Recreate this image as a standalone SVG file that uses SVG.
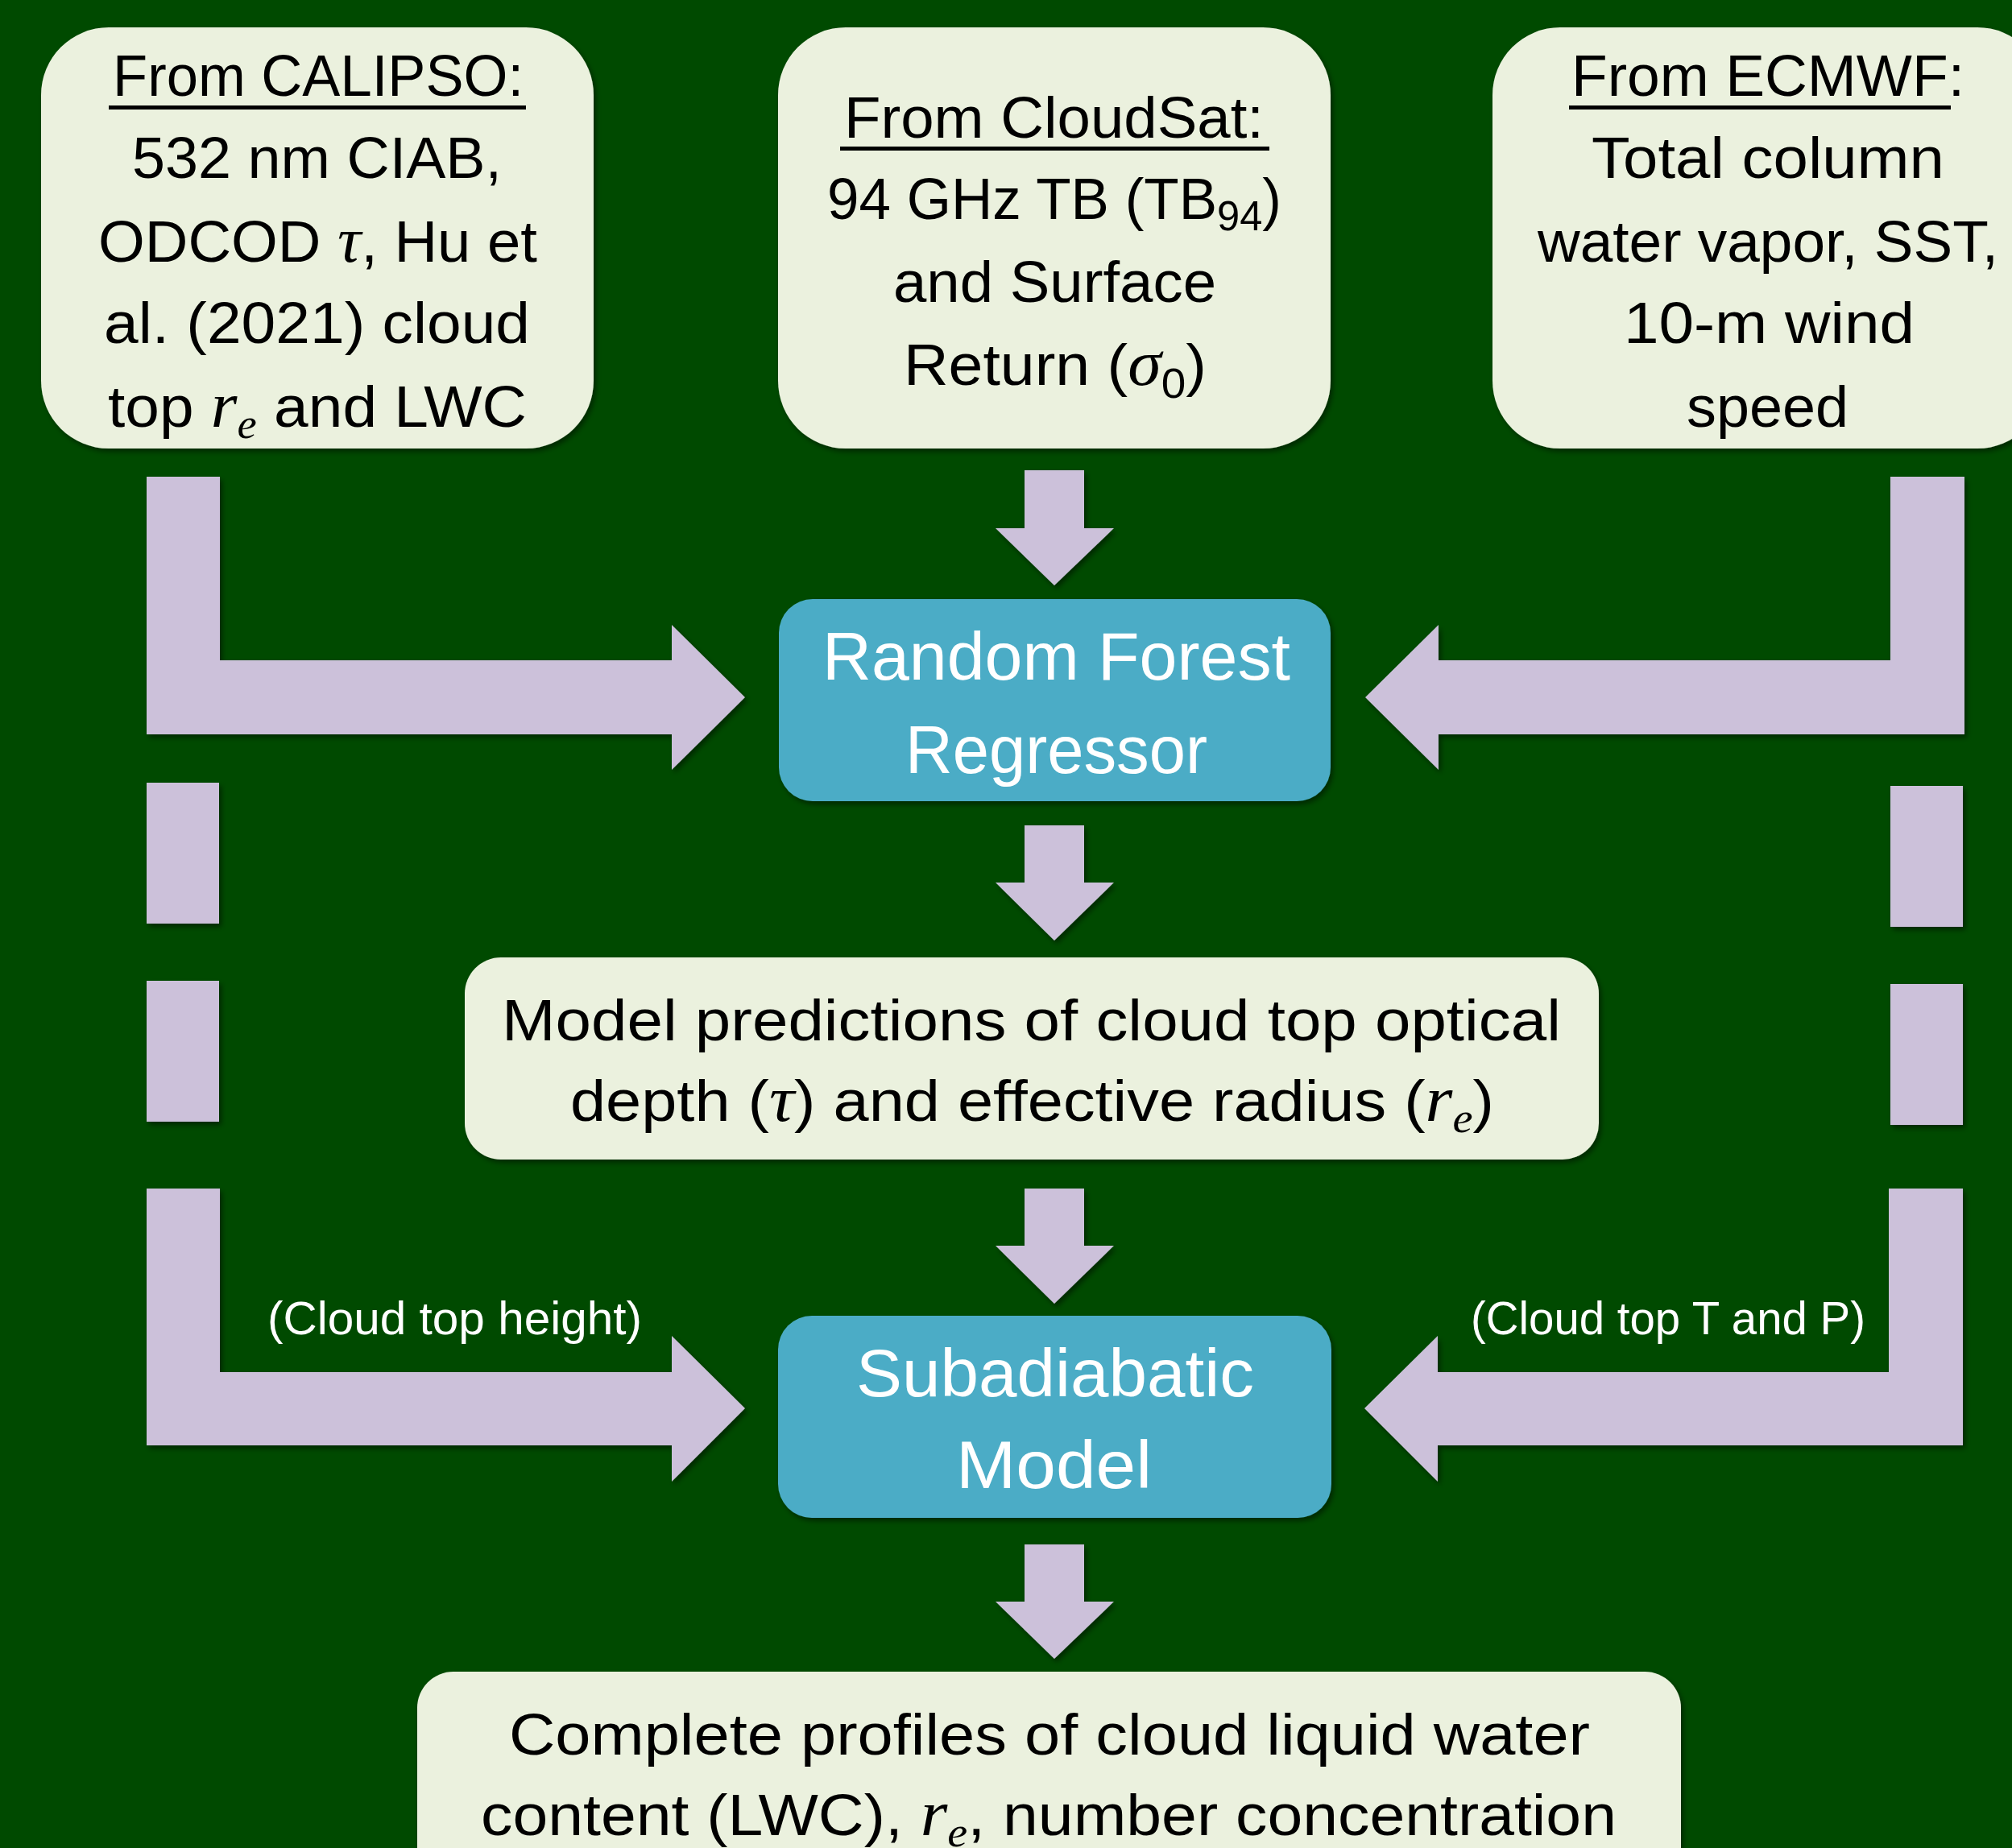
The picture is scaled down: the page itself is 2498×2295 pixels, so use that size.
<svg xmlns="http://www.w3.org/2000/svg" width="2498" height="2295" viewBox="0 0 2498 2295">
<defs>
<filter id="sh" x="-5%" y="-5%" width="115%" height="115%">
<feDropShadow dx="3" dy="4" stdDeviation="3" flood-color="#000" flood-opacity="0.45"/>
</filter>
<style>
.bg{fill:#004A00}
.lt{fill:#EBF1DE;filter:url(#sh)}
.bl{fill:#4BACC6;filter:url(#sh)}
.ar{fill:#CCC1DA;filter:url(#sh)}
.ul{fill:#000}
.t{font-family:"Liberation Sans",Arial,sans-serif;font-size:73px;fill:#000}
.w{font-family:"Liberation Sans",Arial,sans-serif;font-size:84px;fill:#fff}
.lbl{font-family:"Liberation Sans",Arial,sans-serif;font-size:57px;fill:#fff}
.m{font-family:"Liberation Serif","DejaVu Serif",serif;font-style:italic;font-size:80px}
.s{font-size:52px}
</style>
</defs>
<rect class="bg" x="0" y="0" width="2498" height="2295"/>

<g id="connectors">
<polygon class="ar" points="182,592 273,592 273,820 834,820 834,776 925,866 834,956 834,912 182,912"/>
<polygon class="ar" points="2439,592 2347,592 2347,820 1786,820 1786,776 1695,866 1786,956 1786,912 2439,912"/>
<rect class="ar" x="182" y="972" width="90" height="175"/>
<rect class="ar" x="182" y="1218" width="90" height="175"/>
<rect class="ar" x="2347" y="976" width="90" height="175"/>
<rect class="ar" x="2347" y="1222" width="90" height="175"/>
<polygon class="ar" points="182,1476 273,1476 273,1704 834,1704 834,1659 925,1749 834,1840 834,1795 182,1795"/>
<polygon class="ar" points="2437,1476 2345,1476 2345,1704 1785,1704 1785,1659 1694,1749 1785,1840 1785,1795 2437,1795"/>
<polygon class="ar" points="1272,584 1346,584 1346,656 1383,656 1309,727 1236,656 1272,656"/>
<polygon class="ar" points="1272,1025 1346,1025 1346,1096 1383,1096 1309,1168 1236,1096 1272,1096"/>
<polygon class="ar" points="1272,1476 1346,1476 1346,1547 1383,1547 1309,1619 1236,1547 1272,1547"/>
<polygon class="ar" points="1272,1918 1346,1918 1346,1989 1383,1989 1309,2060 1236,1989 1272,1989"/>
<text class="lbl" x="332" y="1657" textLength="465" lengthAdjust="spacingAndGlyphs">(Cloud top height)</text>
<text class="lbl" x="1826" y="1657" textLength="490" lengthAdjust="spacingAndGlyphs">(Cloud top T and P)</text>
</g>

<g id="calipso">
<rect class="lt" x="51" y="34" width="686" height="523" rx="84" ry="84"/>
<text class="t" x="140" y="119" textLength="510" lengthAdjust="spacingAndGlyphs">From CALIPSO:</text>
<rect class="ul" x="135" y="131" width="518" height="5"/>
<text class="t" x="164" y="221" textLength="459" lengthAdjust="spacingAndGlyphs">532 nm CIAB,</text>
<text class="t" x="122" y="325" textLength="545" lengthAdjust="spacingAndGlyphs">ODCOD <tspan class="m">τ</tspan>, Hu et</text>
<text class="t" x="129" y="426" textLength="529" lengthAdjust="spacingAndGlyphs">al. (2021) cloud</text>
<text class="t" x="134" y="530" textLength="520" lengthAdjust="spacingAndGlyphs">top <tspan class="m">r</tspan><tspan class="m s" dy="14">e</tspan><tspan dy="-14"> and LWC</tspan></text>
</g>

<g id="cloudsat">
<rect class="lt" x="966" y="34" width="686" height="523" rx="84" ry="84"/>
<text class="t" x="1048" y="171" textLength="521" lengthAdjust="spacingAndGlyphs">From CloudSat:</text>
<rect class="ul" x="1043" y="182" width="533" height="5"/>
<text class="t" x="1027" y="272" textLength="564" lengthAdjust="spacingAndGlyphs">94 GHz TB (TB<tspan class="s" dy="14">94</tspan><tspan dy="-14">)</tspan></text>
<text class="t" x="1109" y="375" textLength="401" lengthAdjust="spacingAndGlyphs">and Surface</text>
<text class="t" x="1122" y="478" textLength="376" lengthAdjust="spacingAndGlyphs">Return (<tspan class="m">σ</tspan><tspan class="s" dy="16">0</tspan><tspan dy="-16">)</tspan></text>
</g>

<g id="ecmwf">
<rect class="lt" x="1853" y="34" width="686" height="523" rx="84" ry="84"/>
<text class="t" x="1951" y="119" textLength="488" lengthAdjust="spacingAndGlyphs">From ECMWF:</text>
<rect class="ul" x="1948" y="131" width="474" height="5"/>
<text class="t" x="1976" y="221" textLength="438" lengthAdjust="spacingAndGlyphs">Total column</text>
<text class="t" x="1909" y="325" textLength="572" lengthAdjust="spacingAndGlyphs">water vapor, SST,</text>
<text class="t" x="2016" y="426" textLength="361" lengthAdjust="spacingAndGlyphs">10-m wind</text>
<text class="t" x="2094" y="530" textLength="201" lengthAdjust="spacingAndGlyphs">speed</text>
</g>

<g id="random-forest">
<rect class="bl" x="967" y="744" width="685" height="251" rx="42" ry="42"/>
<text class="w" x="1021" y="844" textLength="581" lengthAdjust="spacingAndGlyphs">Random Forest</text>
<text class="w" x="1124" y="960" textLength="375" lengthAdjust="spacingAndGlyphs">Regressor</text>
</g>

<g id="model-predictions">
<rect class="lt" x="577" y="1189" width="1408" height="251" rx="45" ry="45"/>
<text class="t" x="623" y="1292" textLength="1315" lengthAdjust="spacingAndGlyphs">Model predictions of cloud top optical</text>
<text class="t" x="708" y="1392" textLength="1147" lengthAdjust="spacingAndGlyphs">depth (<tspan class="m">τ</tspan>) and effective radius (<tspan class="m">r</tspan><tspan class="m s" dy="14">e</tspan><tspan dy="-14">)</tspan></text>
</g>

<g id="subadiabatic">
<rect class="bl" x="966" y="1634" width="687" height="251" rx="42" ry="42"/>
<text class="w" x="1063" y="1734" textLength="494" lengthAdjust="spacingAndGlyphs">Subadiabatic</text>
<text class="w" x="1187" y="1848" textLength="243" lengthAdjust="spacingAndGlyphs">Model</text>
</g>

<g id="complete-profiles">
<rect class="lt" x="518" y="2076" width="1569" height="330" rx="45" ry="45"/>
<text class="t" x="632" y="2179" textLength="1342" lengthAdjust="spacingAndGlyphs">Complete profiles of cloud liquid water</text>
<text class="t" x="597" y="2279" textLength="1410" lengthAdjust="spacingAndGlyphs">content (LWC), <tspan class="m">r</tspan><tspan class="m s" dy="14">e</tspan><tspan dy="-14">, number concentration</tspan></text>
</g>
</svg>
